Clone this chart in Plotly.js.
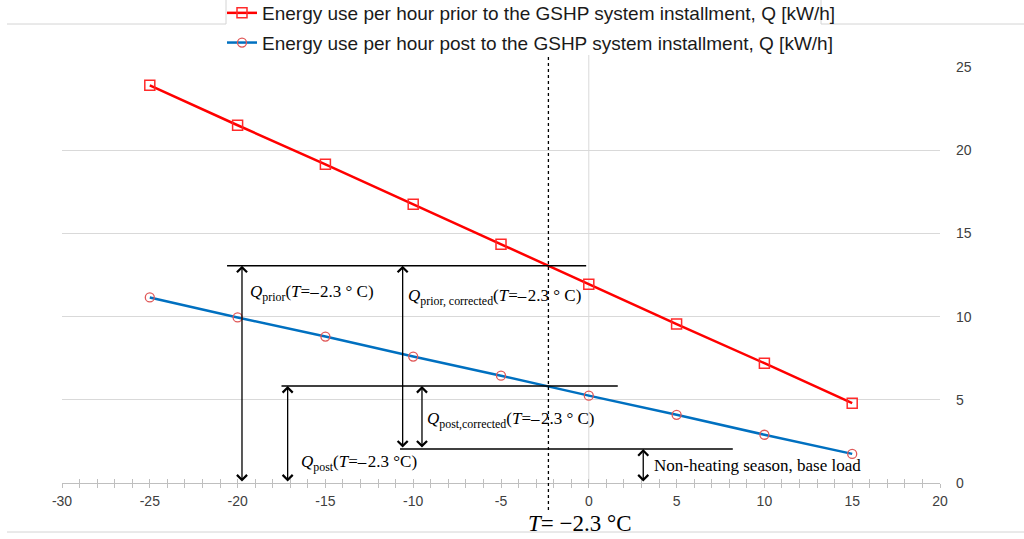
<!DOCTYPE html>
<html><head><meta charset="utf-8">
<script src="https://cdn.plot.ly/plotly-3.0.1.min.js"></script>
<style>html,body{margin:0;padding:0;background:#fff}</style>
</head><body><div id="chart" style="width:1024px;height:539px"></div>
<script>
// ---- data ----
const temps = [-25, -20, -15, -10, -5, 0, 5, 10, 15];
const qPrior = [23.9, 21.5, 19.15, 16.75, 14.35, 11.95, 9.55, 7.2, 4.8];
const qPost = [11.15, 9.95, 8.8, 7.6, 6.45, 5.25, 4.1, 2.9, 1.75];
const xTickVals = [-30, -25, -20, -15, -10, -5, 0, 5, 10, 15, 20];
const xTickText = ["-30", "-25", "-20", "-15", "-10", "-5", "0", "5", "10", "15", "20"];
const yTickVals = [0, 5, 10, 15, 20, 25];
const yTickText = ["0", "5", "10", "15", "20", "25"];
const seriesNames = [
  "Energy use per hour prior to the GSHP system installment, Q [kW/h]",
  "Energy use per hour post to the GSHP system installment, Q [kW/h]"
];
const tRef = -2.3;          // reference temperature
const qPriorAtRef = 13.06;  // prior line value at tRef
const qPostAtRef = 5.83;    // post line value at tRef
const baseLoad = 2.04;      // non-heating season base load
const arrowXs = { prior: -19.75, priorCorr: -10.6, postCorr: -9.5, post: -17.15, base: 3.1 };
const labelTexts = {
  prior: "<i>Q</i><sub>prior</sub>(<i>T</i>=\u2013\u200a2.3 \u00b0 C)",
  priorCorr: "<i>Q</i><sub>prior, corrected</sub>(<i>T</i>=\u2013\u200a2.3 \u00b0 C)",
  postCorr: "<i>Q</i><sub>post,corrected</sub>(<i>T</i>=\u2013\u200a2.3 \u00b0 C)",
  post: "<i>Q</i><sub>post</sub>(<i>T</i>=\u2013\u200a2.3 \u00b0C)",
  base: "Non-heating season, base load",
  xTitle: "<i>T</i>= \u22122.3 \u00b0C"
};

// ---- traces ----
const traces = [
  {
    x: temps, y: qPrior, name: seriesNames[0], type: 'scatter', mode: 'lines+markers',
    line: { color: '#FF0000', width: 2.5 },
    marker: { symbol: 'square-open', size: 10, color: '#FF2A2A', line: { width: 1.5 } },
    legendgroup: 'a'
  },
  {
    x: temps, y: qPost, name: seriesNames[1], type: 'scatter', mode: 'lines+markers',
    line: { color: '#0070C0', width: 2.5 },
    marker: { symbol: 'circle-open', size: 9, color: '#E05858', line: { width: 1.3 } },
    legendgroup: 'b'
  },
  // helper trace for crossing ticks (xaxis2)
  { x: [0], y: [0], xaxis: 'x2', yaxis: 'y', showlegend: false, hoverinfo: 'skip',
    mode: 'markers', marker: { opacity: 0 } }
];

// ---- shapes ----
const hline = (x0, x1, y) => ({ type: 'line', xref: 'x', yref: 'y', x0: x0, x1: x1, y0: y, y1: y,
  line: { color: '#000', width: 1.5 } });
const pxX = px => (px - 62) / 878;
const pxY = py => (483 - py) / 416;
const frameColor = '#d4d4d4';
const shapes = [
  { type: 'line', xref: 'x', yref: 'paper', x0: 0, x1: 0, y0: 0, y1: pxY(55), line: { color: '#d9d9d9', width: 1 }, layer: 'below' },
  hline(-20.6, -0.15, qPriorAtRef),
  hline(-17.5, 1.65, qPostAtRef),
  hline(-10.75, 8.2, baseLoad),
  { type: 'line', xref: 'x', yref: 'paper', x0: tRef, x1: tRef, y0: pxY(510), y1: pxY(55),
    line: { color: '#000', width: 1.3, dash: 'dot' } },
  { type: 'path', xref: 'paper', yref: 'paper',
    path: `M${pxX(7)},${pxY(24)} L${pxX(226)},${pxY(24)} L${pxX(226)},${pxY(0)}`,
    line: { color: frameColor, width: 1 } },
  { type: 'path', xref: 'paper', yref: 'paper',
    path: `M${pxX(821)},${pxY(0)} L${pxX(821)},${pxY(24)} L${pxX(1024)},${pxY(24)}`,
    line: { color: frameColor, width: 1 } },
  { type: 'line', xref: 'paper', yref: 'paper', x0: pxX(7), x1: pxX(1024), y0: pxY(532), y1: pxY(532),
    line: { color: frameColor, width: 1 } }
];

// ---- annotations ----
const dblArrow = (x, y0, y1) => ({
  x: x, y: y1, ax: x, ay: y0, xref: 'x', yref: 'y', axref: 'x', ayref: 'y',
  text: '', showarrow: true, arrowside: 'end+start',
  arrowhead: 4, startarrowhead: 4, arrowsize: 1.5, startarrowsize: 1.5,
  arrowwidth: 1.3, arrowcolor: '#000'
});
const serif = { family: 'Liberation Serif, Times New Roman, serif', size: 17, color: '#000' };
const label = (x, y, text) => ({ x: x, y: y, xref: 'x', yref: 'y', text: text, showarrow: false,
  xanchor: 'left', yanchor: 'middle', font: serif });
const annotations = [
  dblArrow(arrowXs.prior, 0, qPriorAtRef),
  dblArrow(arrowXs.priorCorr, baseLoad, qPriorAtRef),
  dblArrow(arrowXs.postCorr, baseLoad, qPostAtRef),
  dblArrow(arrowXs.post, 0, qPostAtRef),
  dblArrow(arrowXs.base, 0, baseLoad),
  label(-19.4, 11.4, labelTexts.prior),
  label(-10.4, 11.15, labelTexts.priorCorr),
  label(-9.3, 3.8, labelTexts.postCorr),
  label(-16.5, 1.2, labelTexts.post),
  label(3.6, 1.08, labelTexts.base),
  { x: pxX(580), y: pxY(523), xref: 'paper', yref: 'paper', text: labelTexts.xTitle, showarrow: false,
    xanchor: 'center', yanchor: 'middle',
    font: { family: 'Liberation Serif, Times New Roman, serif', size: 23, color: '#000' } }
];

const tickFont = { family: 'Liberation Sans, Arial, sans-serif', size: 14, color: '#404040' };

const layout = {
  width: 1024, height: 539,
  margin: { l: 62, r: 84, t: 67, b: 56, autoexpand: false },
  paper_bgcolor: '#fff', plot_bgcolor: '#fff',
  showlegend: true,
  legend: {
    x: pxX(222), y: pxY(-6), xanchor: 'left', yanchor: 'top',
    font: { family: 'Liberation Sans, Arial, sans-serif', size: 19, color: '#1a1a1a' },
    bgcolor: 'rgba(0,0,0,0)', borderwidth: 0, tracegroupgap: 2, itemwidth: 30
  },
  xaxis: {
    range: [-30, 20], tickvals: xTickVals, ticktext: xTickText,
    showgrid: false, zeroline: false, showline: true, linecolor: '#bfbfbf', linewidth: 1,
    ticks: 'outside', ticklen: 4, tickcolor: '#bfbfbf', tickwidth: 1,
    minor: { dtick: 1, ticks: 'outside', ticklen: 4, tickcolor: '#bfbfbf', tickwidth: 1, showgrid: false },
    tickfont: tickFont, ticklabelstandoff: 1, fixedrange: true
  },
  xaxis2: {
    range: [-30, 20], overlaying: 'x', side: 'bottom', anchor: 'y',
    showgrid: false, zeroline: false, showline: false, showticklabels: false,
    tickvals: xTickVals,
    ticks: 'inside', ticklen: 4, tickcolor: '#bfbfbf', tickwidth: 1,
    minor: { dtick: 1, ticks: 'inside', ticklen: 4, tickcolor: '#bfbfbf', tickwidth: 1, showgrid: false }
  },
  yaxis: {
    range: [0, 25], tickvals: yTickVals, ticktext: yTickText, side: 'right',
    showgrid: true, gridcolor: '#d9d9d9', gridwidth: 1,
    zeroline: false, showline: false, ticks: '',
    tickfont: tickFont, ticklabelstandoff: 15, fixedrange: true
  },
  shapes: shapes,
  annotations: annotations
};

Plotly.newPlot('chart', traces, layout, { displayModeBar: false, staticPlot: true });
</script>
</body></html>
